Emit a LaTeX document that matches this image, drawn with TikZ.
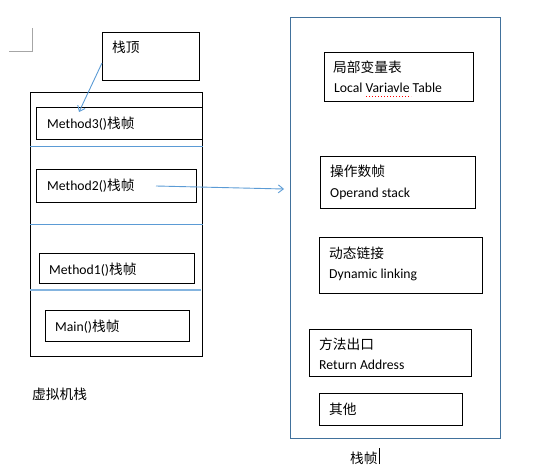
\documentclass[tikz,border=0pt]{standalone}
\usepackage{fontspec}
\setmainfont{Carlito}
\newfontfamily\cjk{Noto Sans CJK SC}
\usetikzlibrary{arrows.meta}
\definecolor{offblue}{HTML}{5B9BD5}
\definecolor{frameblue}{HTML}{41719C}
\begin{document}
\begin{tikzpicture}[x=1pt,y=-1pt,
  box/.style={draw=black,line width=0.9pt,rectangle,inner sep=0pt,anchor=north west},
  lbl/.style={anchor=base west,inner sep=0pt,font=\fontsize{13.7}{16}\selectfont},
  sep/.style={draw=offblue,line width=1pt},
  conn/.style={draw=offblue,line width=0.9pt,-{Straight Barb[length=5pt,width=8pt]}}]
\useasboundingbox (0,0) rectangle (553,470);
% corner mark
\draw[gray!70,line width=0.8pt] (32,28) -- (32,51) -- (9,51);
% stack top box
\node[box,minimum width=97pt,minimum height=48pt] (top) at (102,32) {};
\node[lbl] (toptxt) at (112,53) {\cjk 栈顶};
% outer stack
\node[box,minimum width=172pt,minimum height=264pt] (stack) at (30,92) {};
\node[box,minimum width=166pt,minimum height=32pt] (m3) at (36,107) {};
\node[lbl] (m3txt) at (47,129) {Method3()\cjk 栈帧};
\draw[sep] (stack.west |- 0,147) coordinate (s1a) -- (stack.east |- 0,147) coordinate (s1b);
\node[box,minimum width=160pt,minimum height=33pt] (m2) at (36,169) {};
\node[lbl] (m2txt) at (47,191) {Method2()\cjk 栈帧};
\draw[sep] (stack.west |- 0,224) coordinate (s2a) -- (stack.east |- 0,224) coordinate (s2b);
\node[box,minimum width=155pt,minimum height=30pt] (m1) at (39,253) {};
\node[lbl] (m1txt) at (49,274) {Method1()\cjk 栈帧};
\draw[sep,line width=1.6pt,draw=offblue!75] (stack.west |- 0,290) coordinate (s3a) -- (201,290) coordinate (s3b);
\node[box,minimum width=144pt,minimum height=31pt] (mm) at (45,310) {};
\node[lbl] (mmtxt) at (55,331) {Main()\cjk 栈帧};
\node[lbl] (vmtxt) at (32,399) {\cjk 虚拟机栈};
% frame box
\node[box,draw=frameblue,line width=1pt,minimum width=210pt,minimum height=421pt] (frame) at (290,17) {};
\node[box,minimum width=149pt,minimum height=49pt] (lv) at (324,52) {};
\node[lbl] (lv1) at (333,73) {\cjk 局部变量表};
\node[lbl] (lv2) at (334,93) {Local Variavle Table};
\draw[red,line width=0.8pt,dash pattern=on 1pt off 2pt] (366,96) -- (411,96);
\node[box,minimum width=155pt,minimum height=52pt] (op) at (320,156) {};
\node[lbl] (op1) at (330,177) {\cjk 操作数帧};
\node[lbl] (op2) at (330,197) {Operand stack};
\node[box,minimum width=163pt,minimum height=56pt] (dl) at (319,237) {};
\node[lbl] (dl1) at (329,258) {\cjk 动态链接};
\node[lbl] (dl2) at (329,278) {Dynamic linking};
\node[box,minimum width=162pt,minimum height=47pt] (ra) at (309,329) {};
\node[lbl] (ra1) at (319,349) {\cjk 方法出口};
\node[lbl] (ra2) at (319,369) {Return Address};
\node[box,minimum width=143pt,minimum height=32pt] (ot) at (319,393) {};
\node[lbl] (ot1) at (329,414) {\cjk 其他};
\node[lbl] (fr) at (350,463) {\cjk 栈帧};
\draw[black,line width=1.6pt] (379.5,448) -- (379.5,464);
% connectors
\coordinate (t1) at (102,63);
\coordinate (t2) at (79,112);
\draw[conn] (t1) -- (t2);
\coordinate (u1) at (156,186);
\coordinate (u2) at (284,189);
\draw[conn] (u1) -- (u2);
\end{tikzpicture}
\end{document}
